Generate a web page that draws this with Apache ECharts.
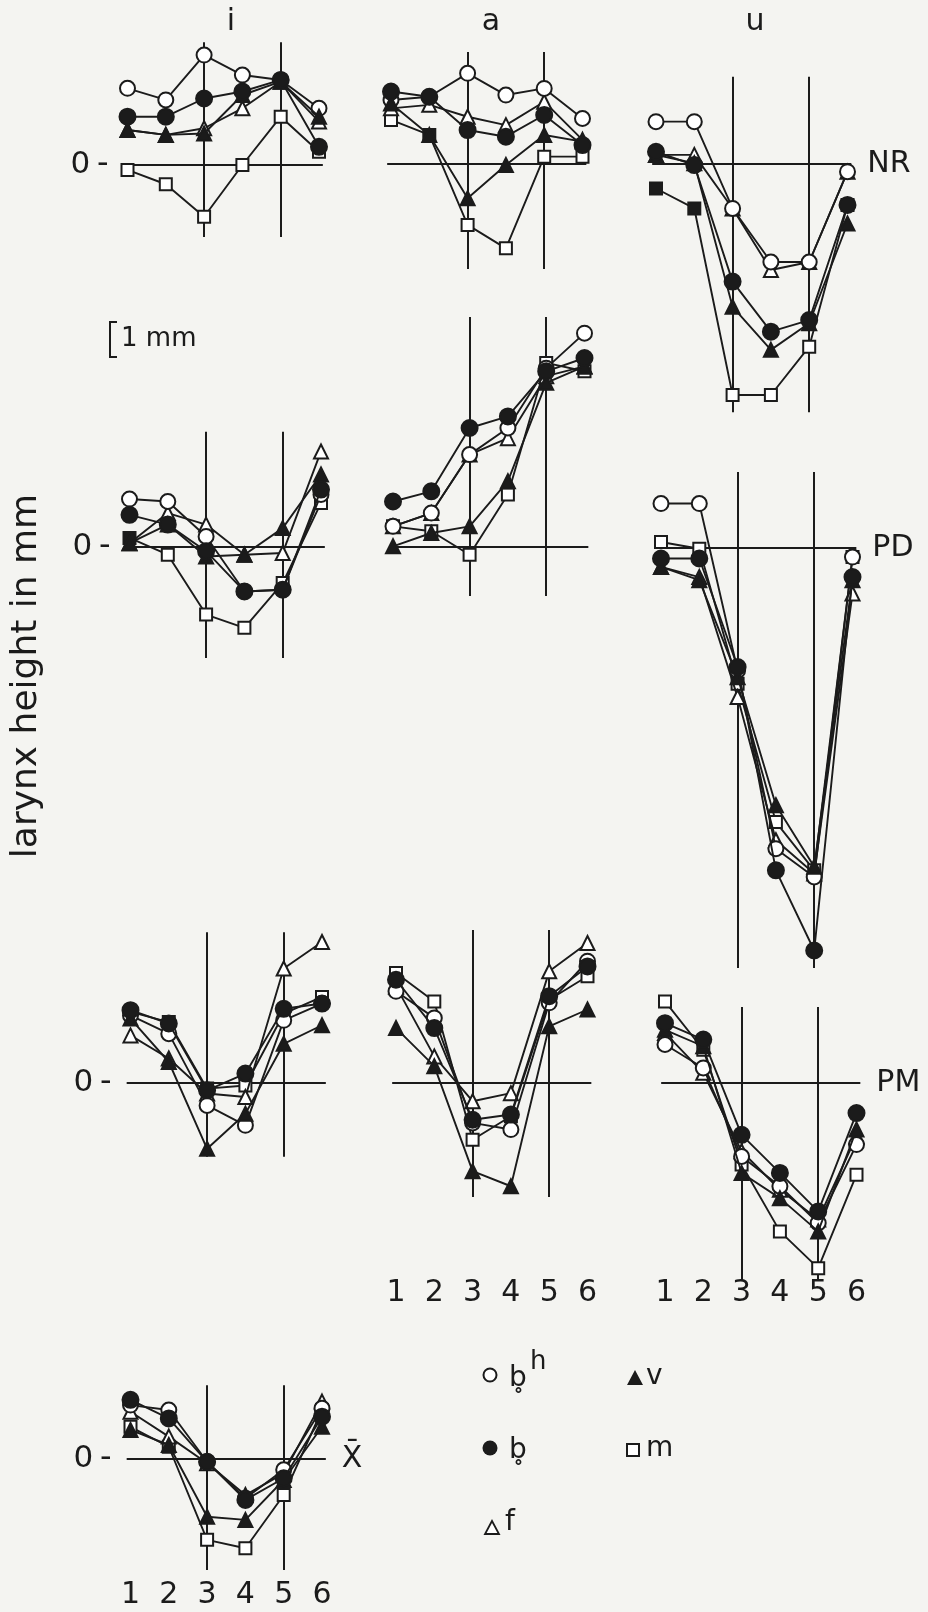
<!DOCTYPE html>
<html>
<head>
<meta charset="utf-8">
<script src="https://cdn.jsdelivr.net/npm/echarts@6/dist/echarts.min.js"></script>
<style>
  html, body { margin: 0; padding: 0; background: #f4f4f1; }
  #chart { width: 928px; height: 1612px; }
</style>
</head>
<body>
<div id="chart"></div>
<script>
// Larynx height (mm) at six measuring points, per vowel, condition and consonant.
const steps = [1, 2, 3, 4, 5, 6];
const stepLabels = ['1', '2', '3', '4', '5', '6'];
const consonants = ['m', 'f', 'bh', 'v', 'b'];   // drawing order: open marks first

// vowel i
const i_NR_bh = [2.19, 1.86, 3.14, 2.57, 2.43, 1.62];
const i_NR_b  = [1.38, 1.38, 1.90, 2.10, 2.43, 0.52];
const i_NR_f  = [1.00, 0.86, 1.05, 1.62, 2.38, 1.24];
const i_NR_v  = [1.00, 0.86, 0.90, 2.00, 2.38, 1.38];
const i_NR_m  = [-0.14, -0.55, -1.48, 0.00, 1.38, 0.38];

const i_PD_bh = [1.37, 1.30, 0.30, -1.27, -1.22, 1.50];
const i_PD_b  = [0.92, 0.64, -0.12, -1.27, -1.22, 1.64];
const i_PD_f  = [0.11, 0.97, 0.64, -0.22, -0.17, 2.73];
const i_PD_v  = [0.11, 0.64, -0.27, -0.22, 0.54, 2.07];
const i_PD_m  = [0.26, -0.22, -1.93, -2.31, -1.03, 1.26];

const i_PM_bh = [1.93, 1.41, -0.64, -1.21, 1.79, 2.27];
const i_PM_b  = [2.08, 1.70, -0.21, 0.27, 2.12, 2.27];
const i_PM_f  = [1.36, 0.70, -0.30, -0.40, 3.27, 4.03];
const i_PM_v  = [1.84, 0.60, -1.88, -0.88, 1.12, 1.65];
const i_PM_m  = [2.03, 1.74, -0.16, -0.07, 1.98, 2.46];

const i_X_bh = [1.54, 1.40, -0.08, -1.12, -0.31, 1.45];
const i_X_b  = [1.69, 1.16, -0.08, -1.17, -0.55, 1.21];
const i_X_f  = [1.35, 0.64, -0.12, -1.03, -0.41, 1.64];
const i_X_v  = [0.83, 0.40, -1.65, -1.74, -0.60, 0.92];
const i_X_m  = [0.92, 0.35, -2.31, -2.55, -1.03, 1.40];

// vowel a
const a_NR_bh = [1.83, 1.92, 2.59, 1.97, 2.16, 1.30];
const a_NR_b  = [2.07, 1.92, 0.97, 0.78, 1.40, 0.54];
const a_NR_f  = [1.59, 1.69, 1.35, 1.11, 1.78, 0.69];
const a_NR_v  = [1.73, 0.83, -0.98, -0.03, 0.83, 0.64];
const a_NR_m  = [1.26, 0.83, -1.74, -2.41, 0.21, 0.21];

const a_PD_bh = [0.59, 0.97, 2.64, 3.40, 5.11, 6.11];
const a_PD_b  = [1.30, 1.59, 3.40, 3.73, 5.02, 5.40];
const a_PD_f  = [0.59, 0.97, 2.64, 3.11, 4.88, 5.16];
const a_PD_v  = [0.02, 0.40, 0.59, 1.88, 4.69, 5.16];
const a_PD_m  = [0.59, 0.45, -0.22, 1.50, 5.26, 5.02];

const a_PM_bh = [2.62, 1.86, -1.14, -1.33, 2.29, 3.48];
const a_PM_b  = [2.95, 1.57, -1.05, -0.90, 2.48, 3.33];
const a_PM_f  = [2.76, 0.76, -0.52, -0.29, 3.19, 4.00];
const a_PM_v  = [1.57, 0.48, -2.52, -2.95, 1.62, 2.10];
const a_PM_m  = [3.14, 2.33, -1.62, -0.95, 2.38, 3.05];

// vowel u
const u_NR_bh = [1.21, 1.21, -1.27, -2.80, -2.80, -0.22];
const u_NR_b  = [0.35, -0.03, -3.36, -4.79, -4.46, -1.17];
const u_NR_f  = [0.26, 0.26, -1.27, -3.03, -2.80, -0.22];
const u_NR_v  = [0.26, 0.02, -4.08, -5.31, -4.55, -1.70];
const u_NR_m  = [-0.70, -1.27, -6.60, -6.60, -5.22, -1.17];

const u_PD_bh = [1.27, 1.27, -3.50, -8.59, -9.40, -0.26];
const u_PD_b  = [-0.30, -0.30, -3.40, -9.21, -11.50, -0.83];
const u_PD_f  = [-0.54, -0.83, -4.26, -8.35, -9.30, -1.30];
const u_PD_v  = [-0.54, -0.92, -3.69, -7.35, -9.11, -0.92];
const u_PD_m  = [0.17, -0.02, -3.88, -7.83, -9.21, -0.26];

const u_PM_bh = [1.10, 0.43, -2.10, -2.95, -4.00, -1.76];
const u_PM_b  = [1.71, 1.24, -1.48, -2.57, -3.67, -0.86];
const u_PM_f  = [1.43, 0.29, -1.95, -3.05, -3.90, -1.52];
const u_PM_v  = [1.52, 1.05, -2.57, -3.29, -4.24, -1.33];
const u_PM_m  = [2.33, 0.95, -2.33, -4.24, -5.29, -2.62];

// ---- layout ----
const INK = '#1b1b1b';
const PAPER = '#f4f4f1';
const FONT = "'DejaVu Sans', 'Noto Sans', sans-serif";
const MM_PX = 35;        // vertical pixels per millimetre
const STEP_PX = 38.3;    // horizontal pixels per measuring point
const X_MIN = 0.9, X_MAX = 6.1;

const panels = [
  { id: 'i-NR', x1: 127.5, zero: 165,  yMin: -2.06, yMax: 3.51, zeroLabel: true,
    sets: { bh: i_NR_bh, b: i_NR_b, f: i_NR_f, v: i_NR_v, m: i_NR_m } },
  { id: 'a-NR', x1: 391,   zero: 164,  yMin: -3.00, yMax: 3.20,
    sets: { bh: a_NR_bh, b: a_NR_b, f: a_NR_f, v: a_NR_v, m: a_NR_m } },
  { id: 'u-NR', x1: 656,   zero: 164,  yMin: -7.09, yMax: 2.49, rowLabel: 'NR',
    sets: { bh: u_NR_bh, b: u_NR_b, f: u_NR_f, v: u_NR_v, m: u_NR_m } },
  { id: 'i-PD', x1: 129.5, zero: 547,  yMin: -3.17, yMax: 3.29, zeroLabel: true,
    sets: { bh: i_PD_bh, b: i_PD_b, f: i_PD_f, v: i_PD_v, m: i_PD_m } },
  { id: 'a-PD', x1: 393,   zero: 547,  yMin: -1.40, yMax: 6.57,
    sets: { bh: a_PD_bh, b: a_PD_b, f: a_PD_f, v: a_PD_v, m: a_PD_m } },
  { id: 'u-PD', x1: 661,   zero: 548,  yMin: -12.0, yMax: 2.17, rowLabel: 'PD',
    sets: { bh: u_PD_bh, b: u_PD_b, f: u_PD_f, v: u_PD_v, m: u_PD_m } },
  { id: 'i-PM', x1: 130.5, zero: 1083, yMin: -2.11, yMax: 4.31, zeroLabel: true,
    sets: { bh: i_PM_bh, b: i_PM_b, f: i_PM_f, v: i_PM_v, m: i_PM_m } },
  { id: 'a-PM', x1: 396,   zero: 1083, yMin: -3.26, yMax: 4.37, tickMargin: 81,
    sets: { bh: a_PM_bh, b: a_PM_b, f: a_PM_f, v: a_PM_v, m: a_PM_m } },
  { id: 'u-PM', x1: 665,   zero: 1083, yMin: -5.63, yMax: 2.17, rowLabel: 'PM', tickMargin: -2,
    sets: { bh: u_PM_bh, b: u_PM_b, f: u_PM_f, v: u_PM_v, m: u_PM_m } },
  { id: 'i-X', x1: 130.5, zero: 1459, yMin: -3.17, yMax: 2.11, zeroLabel: true, rowLabel: 'X\u0304', tickMargin: 10,
    sets: { bh: i_X_bh, b: i_X_b, f: i_X_f, v: i_X_v, m: i_X_m } }
];

// points where a square sits under a filled mark and prints solid
const solidSquares = { 'a-NR': [1], 'u-NR': [0, 1], 'i-PD': [0] };

const marks = {
  bh: { symbol: 'circle',   size: 15, fill: '#ffffff' },
  b:  { symbol: 'circle',   size: 16, fill: INK },
  f:  { symbol: 'triangle', size: 14, fill: '#ffffff' },
  v:  { symbol: 'triangle', size: 14, fill: INK },
  m:  { symbol: 'rect',     size: 12, fill: '#ffffff' }
};

const textBase = { color: INK, fontFamily: FONT };

const grids = [], xAxes = [], yAxes = [], series = [];

panels.forEach((p, gi) => {
  grids.push({
    left: p.x1 + (X_MIN - 1) * STEP_PX,
    width: (X_MAX - X_MIN) * STEP_PX,
    top: p.zero - p.yMax * MM_PX,
    height: (p.yMax - p.yMin) * MM_PX,
    containLabel: false,
    outerBoundsMode: 'none'
  });
  xAxes.push({
    gridIndex: gi, type: 'value', min: X_MIN, max: X_MAX,
    axisLine: { show: false }, axisTick: { show: false }, splitLine: { show: false },
    axisLabel: p.tickMargin !== undefined
      ? { show: true, customValues: steps, formatter: v => stepLabels[steps.indexOf(v)],
          margin: p.tickMargin, fontSize: 30, ...textBase }
      : { show: false }
  });
  yAxes.push({
    gridIndex: gi, type: 'value', min: p.yMin, max: p.yMax,
    axisLine: { show: false }, axisTick: { show: false }, splitLine: { show: false },
    axisLabel: p.zeroLabel
      ? { show: true, customValues: [0], formatter: () => '{z|0}{d|-}', margin: 15, ...textBase,
          rich: { z: { fontSize: 31, ...textBase }, d: { fontSize: 32, padding: [0, 0, 0, 7], ...textBase } } }
      : { show: false }
  });

  consonants.forEach((c, k) => {
    const mk = marks[c];
    const solid = (c === 'm' && solidSquares[p.id]) || [];
    const data = p.sets[c].map((y, idx) => {
      const item = { value: [steps[idx], y] };
      if (solid.includes(idx)) item.itemStyle = { color: INK };
      return item;
    });
    const s = {
      type: 'line', name: c, xAxisIndex: gi, yAxisIndex: gi, data,
      symbol: mk.symbol, symbolSize: mk.size, showSymbol: true, clip: false,
      animation: false, silent: true, z: 3 + k,
      lineStyle: { color: INK, width: 1.9 },
      itemStyle: { color: mk.fill, borderColor: INK, borderWidth: 2, opacity: 1 }
    };
    if (k === 0) {
      const zeroLine = { yAxis: 0 };
      if (p.rowLabel) {
        zeroLine.label = { show: true, position: 'end', formatter: p.rowLabel, distance: 16,
                           fontSize: 30, ...textBase };
      }
      s.markLine = {
        silent: true, symbol: ['none', 'none'], animation: false, z: 1,
        lineStyle: { color: INK, width: 2, type: 'solid' },
        label: { show: false },
        data: [{ xAxis: 3 }, { xAxis: 5 }, zeroLine]
      };
    }
    series.push(s);
  });
});

const chart = echarts.init(document.getElementById('chart'), null, { renderer: 'canvas', width: 928, height: 1612 });
chart.setOption({
  backgroundColor: PAPER,
  animation: false,
  grid: grids, xAxis: xAxes, yAxis: yAxes, series
});

// graphic texts: vowel headings, axis title, legend, 1 mm scale bar
function txt(id, text, x, y, size, align, extra) {
  return Object.assign({
    type: 'text', id, x, y, silent: true, z: 10,
    style: { text, fill: INK, fontSize: size, fontFamily: FONT,
             align: align || 'center', verticalAlign: 'middle',
             textAlign: align || 'center', textVerticalAlign: 'middle' }
  }, extra || {});
}

const mmPx = Math.abs(chart.convertToPixel({ yAxisIndex: 3 }, 0) - chart.convertToPixel({ yAxisIndex: 3 }, 1));
const barTop = 322, barX = 110;

const graphics = [
  txt('h-i', 'i', 231, 22, 30),
  txt('h-a', 'a', 491, 22, 30),
  txt('h-u', 'u', 755, 22, 30),
  txt('ytitle', 'larynx height in mm', 27, 676, 36, 'center', { rotation: Math.PI / 2 }),
  {
    type: 'polyline', id: 'scalebar', silent: true,
    shape: { points: [[barX + 7, barTop], [barX, barTop], [barX, barTop + mmPx], [barX + 7, barTop + mmPx]] },
    style: { stroke: INK, lineWidth: 2, fill: null }
  },
  txt('scaletext', '1 mm', 121, barTop + mmPx / 2, 26, 'left'),
  // legend
  { type: 'circle', id: 'lg-bh', silent: true, shape: { cx: 490, cy: 1375, r: 6.5 },
    style: { fill: '#ffffff', stroke: INK, lineWidth: 2 } },
  txt('lt-bh', 'b\u0325', 509, 1379, 28, 'left'),
  txt('lt-bh-h', 'h', 530, 1362, 26, 'left'),
  { type: 'polygon', id: 'lg-v', silent: true, shape: { points: [[635, 1370], [643, 1385], [627, 1385]] },
    style: { fill: INK } },
  txt('lt-v', 'v', 646, 1377, 28, 'left'),
  { type: 'circle', id: 'lg-b', silent: true, shape: { cx: 490, cy: 1448, r: 7.5 },
    style: { fill: INK } },
  txt('lt-b', 'b\u0325', 509, 1451, 28, 'left'),
  { type: 'rect', id: 'lg-m', silent: true, shape: { x: 627, y: 1444, width: 12, height: 12 },
    style: { fill: '#ffffff', stroke: INK, lineWidth: 2 } },
  txt('lt-m', 'm', 646, 1449, 28, 'left'),
  { type: 'polygon', id: 'lg-f', silent: true, shape: { points: [[492, 1521], [499, 1534], [485, 1534]] },
    style: { fill: '#ffffff', stroke: INK, lineWidth: 1.8 } },
  txt('lt-f', 'f', 505, 1523, 28, 'left')
];

chart.setOption({ graphic: { elements: graphics } });
</script>
</body>
</html>
